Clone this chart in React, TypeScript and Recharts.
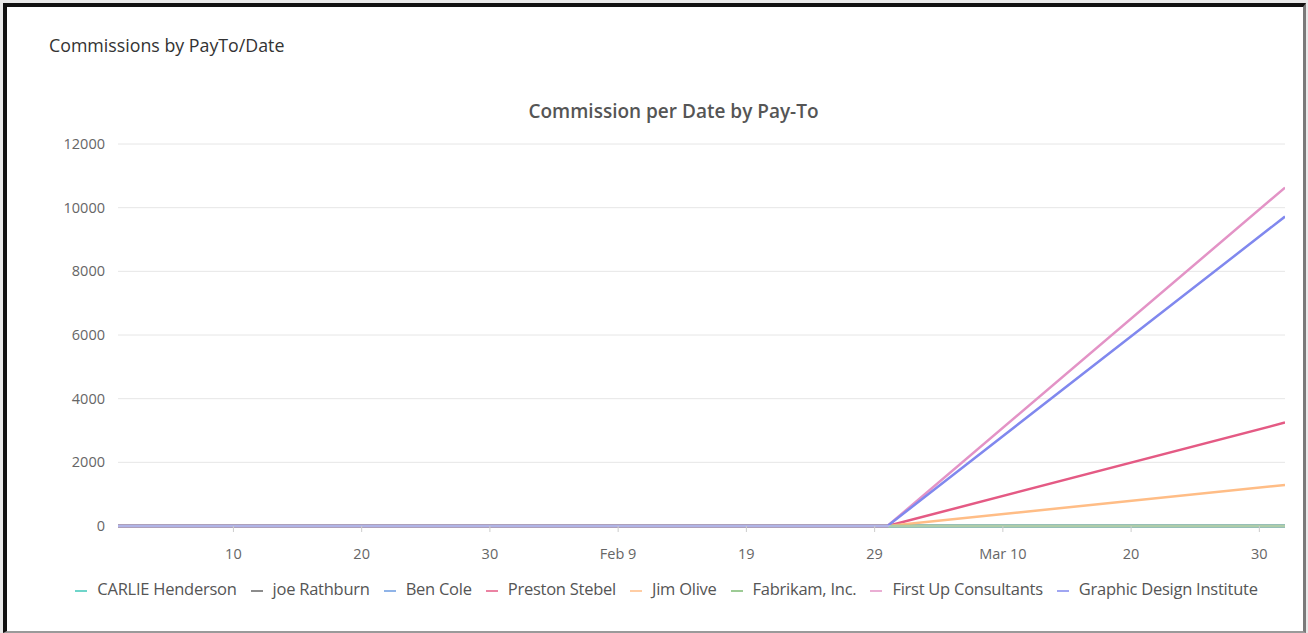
import React from 'react';
import { LineChart, Line, XAxis, YAxis, CartesianGrid, Legend } from 'recharts';

const dates = ['2024-01-01', '2024-03-01', '2024-04-01'];

const carlieHenderson = [0, 0, 0];
const joeRathburn = [0, 0, 0];
const benCole = [0, 0, 0];
const prestonStebel = [0, 0, 3250];
const jimOlive = [0, 0, 1290];
const fabrikam = [0, 0, 0];
const firstUp = [0, 0, 10630];
const graphicDesign = [0, 0, 9720];

const yTicks = [0, 2000, 4000, 6000, 8000, 10000, 12000];
const xTickDates = ['2024-01-10', '2024-01-20', '2024-01-30', '2024-02-09', '2024-02-19', '2024-02-29', '2024-03-10', '2024-03-20', '2024-03-30'];
const xTickLabels = ['10', '20', '30', 'Feb 9', '19', '29', 'Mar 10', '20', '30'];

const toTs = (d: string) => {
    const [y, m, day] = d.split('-').map(Number);
    return Date.UTC(y, m - 1, day);
};

const series = [
    { key: 'carlie', name: 'CARLIE Henderson', color: '#3fc7b8', values: carlieHenderson },
    { key: 'joe', name: 'joe Rathburn', color: '#666666', values: joeRathburn },
    { key: 'ben', name: 'Ben Cole', color: '#6b9be0', values: benCole },
    { key: 'preston', name: 'Preston Stebel', color: '#e45a84', values: prestonStebel },
    { key: 'jim', name: 'Jim Olive', color: '#ffbd86', values: jimOlive },
    { key: 'fabrikam', name: 'Fabrikam, Inc.', color: '#7dba72', values: fabrikam },
    { key: 'firstUp', name: 'First Up Consultants', color: '#e393c6', values: firstUp },
    { key: 'graphic', name: 'Graphic Design Institute', color: '#8088ee', values: graphicDesign },
];

const data = dates.map((d, i) => {
    const row: Record<string, number> = { ts: toTs(d) };
    series.forEach(s => { row[s.key] = s.values[i]; });
    return row;
});

const font = '"Open Sans", "Noto Sans", sans-serif';
const xTickTs = xTickDates.map(toTs);

export default function App() {
    return (
        <div style={{ position: 'absolute', left: 0, top: 0, width: 1308, height: 633, background: '#e9e9e9', fontFamily: font }}>
            <div style={{
                position: 'absolute', left: 3, top: 3, width: 1296, height: 624, background: '#fff',
                borderTop: '4px solid #111', borderLeft: '4px solid #111', borderRight: '3px solid #7a7a7a', borderBottom: '2px solid #9a9a9a',
            }} />
            <div style={{ position: 'absolute', left: 49, top: 33, fontSize: 17.8, color: '#333', whiteSpace: 'nowrap' }}>
                Commissions by PayTo/Date
            </div>
            <div style={{ position: 'absolute', left: 49, width: 1249, top: 98, textAlign: 'center', fontSize: 19, fontWeight: 600, color: '#555' }}>
                Commission per Date by Pay-To
            </div>
            <div style={{ position: 'absolute', left: 0, top: 0 }}>
                <LineChart width={1308} height={633} data={data} margin={{ top: 144, right: 23, left: 58, bottom: 54 }}>
                    <CartesianGrid vertical={false} stroke="#e6e6e6" />
                    <XAxis
                        dataKey="ts"
                        type="number"
                        domain={[toTs('2024-01-01'), toTs('2024-04-01')]}
                        ticks={xTickTs}
                        tickFormatter={(v: number) => xTickLabels[xTickTs.indexOf(v)] ?? ''}
                        height={30}
                        axisLine={{ stroke: '#e0e0e0' }}
                        tickLine={{ stroke: '#cccccc' }}
                        tickSize={6}
                        tickMargin={17}
                        tick={{ fill: '#666', fontSize: 14.5, fontFamily: font }}
                        allowDataOverflow
                    />
                    <YAxis
                        domain={[0, 12000]}
                        ticks={yTicks}
                        width={60}
                        axisLine={false}
                        tickLine={false}
                        tickMargin={7}
                        tick={{ fill: '#666', fontSize: 14.5, fontFamily: font }}
                    />
                    <Legend
                        verticalAlign="bottom"
                        iconType="plainline"
                        iconSize={12}
                        itemSorter={(item: any) => series.findIndex(s => s.key === item.dataKey)}
                        wrapperStyle={{ top: 577, left: 49, width: 1249, fontFamily: font, fontSize: 16.5, letterSpacing: -0.25 }}
                        formatter={(value: string) => <span style={{ color: '#555', marginLeft: 6, marginRight: 4 }}>{value}</span>}
                    />
                    {series.map(s => (
                        <Line
                            key={s.key}
                            type="linear"
                            dataKey={s.key}
                            name={s.name}
                            stroke={s.color}
                            strokeWidth={2.5}
                            dot={false}
                            activeDot={false}
                            isAnimationActive={false}
                        />
                    ))}
                </LineChart>
            </div>
        </div>
    );
}
